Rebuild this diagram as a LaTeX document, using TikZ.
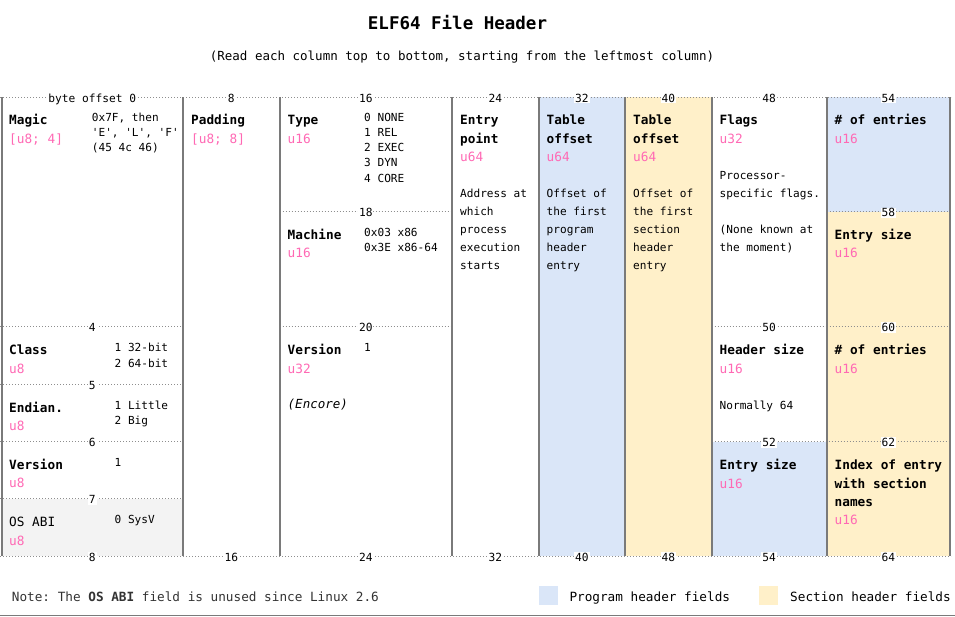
\documentclass[tikz,border=0pt]{standalone}
\usepackage{fontspec}
\setmonofont{DejaVu Sans Mono}
\definecolor{phblue}{HTML}{DAE6F8}
\definecolor{shyellow}{HTML}{FFF0C9}
\definecolor{abigray}{HTML}{F3F3F3}
\definecolor{typepink}{HTML}{FF69B4}
\definecolor{rulegray}{HTML}{7A7A7A}
\begin{document}
\begin{tikzpicture}[x=1pt, y=-1pt, font=\ttfamily,
    fname/.style={anchor=base west, inner sep=0pt, font=\ttfamily\bfseries\fontsize{12.75}{15}\selectfont},
    ftype/.style={anchor=base west, inner sep=0pt, text=typepink, font=\ttfamily\fontsize{12.75}{15}\selectfont},
    fval/.style={anchor=base west, inner sep=0pt, font=\ttfamily\fontsize{11.1}{13}\selectfont},
    offs/.style={anchor=base, fill=white, inner sep=1pt, font=\ttfamily\fontsize{11.2}{13}\selectfont},
    byteline/.style={rulegray!85, line width=1pt, dash pattern=on 1.2pt off 1.8pt},
    colrule/.style={rulegray, line width=2pt}]

    \useasboundingbox (0,0) rectangle (955,617);

    % ─────────── title ─────────────────────────────────────────────────
    \node[anchor=base, font=\ttfamily\bfseries\fontsize{17.5}{20}\selectfont] (title) at (457.5,29.3) {ELF64 File Header};
    \node[anchor=base, font=\ttfamily\fontsize{12.5}{15}\selectfont] (subtitle) at (462,60.3) {(Read each column top to bottom, starting from the leftmost column)};

    % ─────────── field fills ───────────────────────────────────────────
    \fill[abigray]  (1.5,498.9) rectangle (183,556.3);
    \fill[phblue]   (538.5,97.3) rectangle (625,556.3);
    \fill[shyellow] (625,97.3) rectangle (711.5,556.3);
    \fill[phblue]   (711.5,441.5) rectangle (826.5,556.3);
    \fill[phblue]   (826.5,97.3) rectangle (950,212);
    \fill[shyellow] (826.5,212) rectangle (950,556.3);

    % ─────────── byte lines ────────────────────────────────────────────
    \draw[byteline] (0,97.3) -- (951,97.3);
    \draw[byteline] (0,556.3) -- (951,556.3);
    \draw[byteline] (0,326.8) -- (183,326.8);
    \draw[byteline] (0,384.2) -- (183,384.2);
    \draw[byteline] (0,441.5) -- (183,441.5);
    \draw[byteline] (0,498.9) -- (183,498.9);
    \draw[byteline] (279.5,212) -- (452,212);
    \draw[byteline] (279.5,326.8) -- (452,326.8);
    \draw[byteline] (711.5,326.8) -- (826.5,326.8);
    \draw[byteline] (711.5,441.5) -- (951,441.5);
    \draw[byteline] (826.5,212) -- (951,212);
    \draw[byteline] (826.5,326.8) -- (951,326.8);

    % ─────────── column borders ────────────────────────────────────────
    \draw[colrule] (1.5,97.3) -- (1.5,556.3) (183,97.3) -- (183,556.3)
        (279.5,97.3) -- (279.5,556.3) (452,97.3) -- (452,556.3)
        (538.5,97.3) -- (538.5,556.3) (625,97.3) -- (625,556.3)
        (711.5,97.3) -- (711.5,556.3) (826.5,97.3) -- (826.5,556.3)
        (950,97.3) -- (950,556.3);

    % ─────────── byte offsets ──────────────────────────────────────────
    \node[offs] (o0)  at (92.25,102.3) {byte offset 0};
    \node[offs] (o8)  at (231.25,102.3) {8};
    \node[offs] (o16) at (365.75,102.3) {16};
    \node[offs] (o24) at (495.25,102.3) {24};
    \node[offs] (o32) at (581.75,102.3) {32};
    \node[offs] (o40) at (668.25,102.3) {40};
    \node[offs] (o48) at (769,102.3) {48};
    \node[offs] (o54) at (888.25,102.3) {54};
    \node[offs] (o4)  at (92.25,331.8) {4};
    \node[offs] (o5)  at (92.25,389.2) {5};
    \node[offs] (o6)  at (92.25,446.5) {6};
    \node[offs] (o7)  at (92.25,503.9) {7};
    \node[offs] (o18) at (365.75,217) {18};
    \node[offs] (o20) at (365.75,331.8) {20};
    \node[offs] (o50) at (769,331.8) {50};
    \node[offs] (o52) at (769,446.5) {52};
    \node[offs] (o58) at (888.25,217) {58};
    \node[offs] (o60) at (888.25,331.8) {60};
    \node[offs] (o62) at (888.25,446.5) {62};
    \node[offs] (e8)  at (92.25,561.3) {8};
    \node[offs] (e16) at (231.25,561.3) {16};
    \node[offs] (e24) at (365.75,561.3) {24};
    \node[offs] (e32) at (495.25,561.3) {32};
    \node[offs] (e40) at (581.75,561.3) {40};
    \node[offs] (e48) at (668.25,561.3) {48};
    \node[offs] (e54) at (769,561.3) {54};
    \node[offs] (e64) at (888.25,561.3) {64};

    % ─────────── ident bytes (0-16) ────────────────────────────────────
    \node[fname] (magic)    at (9,124.8) {Magic};
    \node[ftype] (magic-t)  at (9,143.2) {[u8; 4]};
    \node[fval]  (magic-v1) at (91.7,121.7) {0x7F, then};
    \node[fval]  (magic-v2) at (91.7,136.7) {'E', 'L', 'F'};
    \node[fval]  (magic-v3) at (91.7,151.7) {(45 4c 46)};
    \node[fname] (class)    at (9,354.7) {Class};
    \node[ftype] (class-t)  at (9,373.1) {u8};
    \node[fval]  (class-v1) at (114.5,351.7) {1 32-bit};
    \node[fval]  (class-v2) at (114.5,367) {2 64-bit};
    \node[fname] (endian)   at (9,412) {Endian.};
    \node[ftype] (endian-t) at (9,430.4) {u8};
    \node[fval]  (endian-v1) at (114.5,409.2) {1 Little};
    \node[fval]  (endian-v2) at (114.5,424.5) {2 Big};
    \node[fname] (iversion)   at (9,469.3) {Version};
    \node[ftype] (iversion-t) at (9,487.7) {u8};
    \node[fval]  (iversion-v) at (114.5,466.5) {1};
    \node[fname, font=\ttfamily\fontsize{12.75}{15}\selectfont] (osabi) at (9,526.6) {OS ABI};
    \node[ftype] (osabi-t)  at (9,545) {u8};
    \node[fval]  (osabi-v)  at (114.5,523.8) {0 SysV};
    \node[fname] (pad)      at (191,124.8) {Padding};
    \node[ftype] (pad-t)    at (191,143.2) {[u8; 8]};

    % ─────────── type, machine, version (16-24) ────────────────────────
    \node[fname] (type)     at (287.5,124.8) {Type};
    \node[ftype] (type-t)   at (287.5,143.2) {u16};
    \node[fval]  (type-v1)  at (364,121.7) {0 NONE};
    \node[fval]  (type-v2)  at (364,136.8) {1 REL};
    \node[fval]  (type-v3)  at (364,151.9) {2 EXEC};
    \node[fval]  (type-v4)  at (364,167) {3 DYN};
    \node[fval]  (type-v5)  at (364,182.1) {4 CORE};
    \node[fname] (mach)     at (287.5,239.5) {Machine};
    \node[ftype] (mach-t)   at (287.5,257.9) {u16};
    \node[fval]  (mach-v1)  at (364,236.5) {0x03 x86};
    \node[fval]  (mach-v2)  at (364,251.7) {0x3E x86-64};
    \node[fname] (version)  at (287.5,354.7) {Version};
    \node[ftype] (version-t) at (287.5,373.1) {u32};
    \node[fval]  (version-v) at (364,351.7) {1};
    \node[fval, font=\ttfamily\itshape\fontsize{12.5}{15}\selectfont] (version-d) at (287.5,408.5) {(Encore)};

    % ─────────── entry point (24-32) ───────────────────────────────────
    \node[fname] (entry1)   at (460,124.8) {Entry};
    \node[fname] (entry2)   at (460,143.2) {point};
    \node[ftype] (entry-t)  at (460,161.6) {u64};
    \node[fval]  (entry-d1) at (460,197.7) {Address at};
    \node[fval]  (entry-d2) at (460,215.7) {which};
    \node[fval]  (entry-d3) at (460,233.7) {process};
    \node[fval]  (entry-d4) at (460,251.7) {execution};
    \node[fval]  (entry-d5) at (460,269.7) {starts};

    % ─────────── table offsets (32-48) ─────────────────────────────────
    \node[fname] (phoff1)   at (546.5,124.8) {Table};
    \node[fname] (phoff2)   at (546.5,143.2) {offset};
    \node[ftype] (phoff-t)  at (546.5,161.6) {u64};
    \node[fval]  (phoff-d1) at (546.5,197.7) {Offset of};
    \node[fval]  (phoff-d2) at (546.5,215.7) {the first};
    \node[fval]  (phoff-d3) at (546.5,233.7) {program};
    \node[fval]  (phoff-d4) at (546.5,251.7) {header};
    \node[fval]  (phoff-d5) at (546.5,269.7) {entry};
    \node[fname] (shoff1)   at (633,124.8) {Table};
    \node[fname] (shoff2)   at (633,143.2) {offset};
    \node[ftype] (shoff-t)  at (633,161.6) {u64};
    \node[fval]  (shoff-d1) at (633,197.7) {Offset of};
    \node[fval]  (shoff-d2) at (633,215.7) {the first};
    \node[fval]  (shoff-d3) at (633,233.7) {section};
    \node[fval]  (shoff-d4) at (633,251.7) {header};
    \node[fval]  (shoff-d5) at (633,269.7) {entry};

    % ─────────── flags, sizes (48-54) ──────────────────────────────────
    \node[fname] (flags)    at (719.5,124.8) {Flags};
    \node[ftype] (flags-t)  at (719.5,143.2) {u32};
    \node[fval]  (flags-d1) at (719.5,179.2) {Processor-};
    \node[fval]  (flags-d2) at (719.5,197.4) {specific flags.};
    \node[fval]  (flags-d3) at (719.5,233.8) {(None known at};
    \node[fval]  (flags-d4) at (719.5,252) {the moment)};
    \node[fname] (ehsize)   at (719.5,354.7) {Header size};
    \node[ftype] (ehsize-t) at (719.5,373.1) {u16};
    \node[fval]  (ehsize-d) at (719.5,409.3) {Normally 64};
    \node[fname] (phent)    at (719.5,469.7) {Entry size};
    \node[ftype] (phent-t)  at (719.5,488.1) {u16};

    % ─────────── counts, sizes, index (54-64) ──────────────────────────
    \node[fname] (phnum)    at (834.5,124.8) {\# of entries};
    \node[ftype] (phnum-t)  at (834.5,143.2) {u16};
    \node[fname] (shent)    at (834.5,239.5) {Entry size};
    \node[ftype] (shent-t)  at (834.5,257.9) {u16};
    \node[fname] (shnum)    at (834.5,354.7) {\# of entries};
    \node[ftype] (shnum-t)  at (834.5,373.1) {u16};
    \node[fname] (shstr1)   at (834.5,469.7) {Index of entry};
    \node[fname] (shstr2)   at (834.5,488.1) {with section};
    \node[fname] (shstr3)   at (834.5,506.5) {names};
    \node[ftype] (shstr-t)  at (834.5,524.9) {u16};

    % ─────────── note & legend ─────────────────────────────────────────
    \node[anchor=base west, inner sep=0pt, text=black!80, font=\ttfamily\fontsize{12.7}{15}\selectfont] (note) at (11.7,601.7) {Note: The {\bfseries OS ABI} field is unused since Linux 2.6};
    \fill[phblue] (538.5,586) rectangle (557.5,605);
    \node[anchor=base west, inner sep=0pt, font=\ttfamily\fontsize{12.7}{15}\selectfont] (leg-ph) at (569.3,601.7) {Program header fields};
    \fill[shyellow] (759.3,586) rectangle (778.3,605);
    \node[anchor=base west, inner sep=0pt, font=\ttfamily\fontsize{12.7}{15}\selectfont] (leg-sh) at (790,601.7) {Section header fields};
    \draw[rulegray, line width=1.5pt] (0,615.7) -- (955,615.7);
  \end{tikzpicture}
\end{document}
